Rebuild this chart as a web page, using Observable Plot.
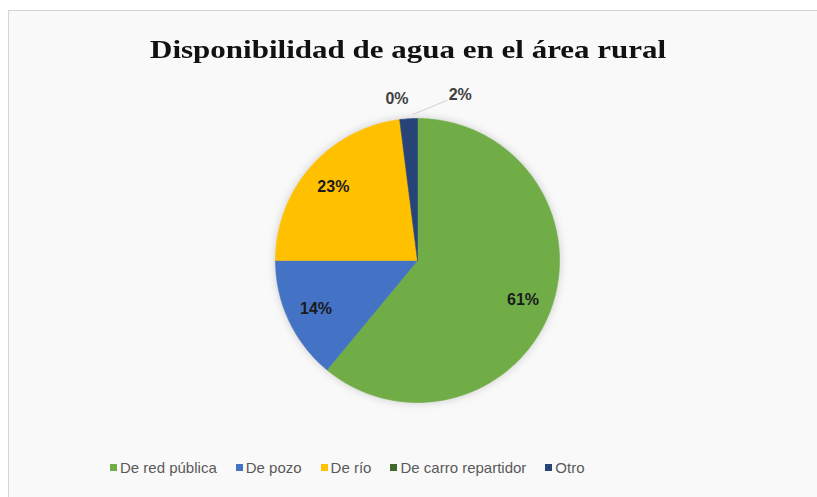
<!DOCTYPE html>
<html>
<head>
<meta charset="utf-8">
<script src="https://cdn.jsdelivr.net/npm/d3@7"></script>
<script src="https://cdn.jsdelivr.net/npm/@observablehq/plot@0.6"></script>
<style>
  html, body { margin: 0; padding: 0; background: #ffffff; }
  #wrap { position: relative; width: 817px; height: 497px; overflow: hidden; }
  #frame { position: absolute; left: 8px; top: 10px; width: 820px; height: 500px;
           background: #f9f9f9; border-left: 1px solid #d4d4d4; border-top: 1px solid #d4d4d4; }
  #title { position: absolute; left: 0; width: 817px; top: 36px; text-align: center;
           font-family: "Liberation Serif", serif; font-weight: bold; font-size: 25px; color: #111;
           transform: scaleX(1.24); transform-origin: 410px 0; }
  #chart { position: absolute; left: 0; top: 0; }
  #legend { position: absolute; left: 110px; top: 459px; display: flex;
            gap: 19px; font-family: "Liberation Sans", sans-serif; font-size: 15px; color: #595959; }
  #legend .item { display: flex; align-items: center; gap: 3px; }
  #legend .sw { width: 7px; height: 7px; display: inline-block; }
</style>
</head>
<body>
<div id="wrap">
  <div id="frame"></div>
  <div id="chart"></div>
  <div id="title"></div>
  <div id="legend"></div>
</div>
<script>
const title = "Disponibilidad de agua en el área rural";
const categories = ["De red pública", "De pozo", "De río", "De carro repartidor", "Otro"];
const values = [61, 14, 23, 0, 2];
const colors = ["#70ad47", "#4472c4", "#ffc000", "#43682b", "#264478"];
const outsideLabels = ["De carro repartidor", "Otro"];

document.getElementById("title").textContent = title;

const data = categories.map((name, i) => ({name, value: values[i]}));
const arcs = d3.pie().sort(null).value(d => d.value)(data);

// polygon outline for each slice (center + arc samples), angle clockwise from 12 o'clock
const poly = [];
arcs.forEach(a => {
  if (a.endAngle - a.startAngle <= 0) return;
  const n = Math.max(2, Math.ceil((a.endAngle - a.startAngle) / (Math.PI / 180)));
  poly.push({name: a.data.name, x: 0, y: 0});
  for (let k = 0; k <= n; k++) {
    const t = a.startAngle + (a.endAngle - a.startAngle) * k / n;
    poly.push({name: a.data.name, x: Math.sin(t), y: Math.cos(t)});
  }
  poly.push({name: a.data.name, x: 0, y: 0});
});

const total = d3.sum(values);
const labels = arcs.map(a => {
  const mid = (a.startAngle + a.endAngle) / 2;
  const outside = outsideLabels.includes(a.data.name);
  const r = outside ? 1.15 : 0.79;
  return {name: a.data.name, text: Math.round(a.data.value / total * 100) + "%",
          x: r * Math.sin(mid), y: r * Math.cos(mid), mid, outside};
});
const inside = labels.filter(d => !d.outside);
const outA = labels.filter(d => d.outside && d.name !== "Otro");
const outB = labels.filter(d => d.name === "Otro");
const leader = outB.flatMap(d => [
  {x: 1.0 * Math.sin(d.mid) + 0.03, y: 1.0 * Math.cos(d.mid) + 0.03},
  {x: d.x + 0.28, y: d.y - 0.02}
]);

const font = "Liberation Sans, sans-serif";
const chart = Plot.plot({
  width: 817, height: 497,
  marginLeft: 275, marginRight: 817 - 559, marginTop: 118, marginBottom: 497 - 402,
  x: {domain: [-1, 1], axis: null},
  y: {domain: [-1, 1], axis: null},
  color: {domain: categories, range: colors},
  style: {background: "transparent", overflow: "visible"},
  marks: [
    Plot.line(poly, {x: "x", y: "y", z: "name", fill: "name", stroke: "name", strokeWidth: 0.6}),
    Plot.line(leader, {x: "x", y: "y", stroke: "#d0d0d0", strokeWidth: 1}),
    Plot.text(inside, {x: "x", y: "y", text: "text", fill: "#1a1a1a", fontWeight: "bold",
      fontSize: 16, fontFamily: font, dy: 1}),
    Plot.text(outA, {x: "x", y: "y", text: "text", fill: "#404040", fontWeight: "bold",
      fontSize: 16, fontFamily: font}),
    Plot.text(outB, {x: "x", y: "y", text: "text", fill: "#404040", fontWeight: "bold",
      fontSize: 16, fontFamily: font, dx: 53, dy: -3})
  ]
});
const pieG = chart.querySelector('g[aria-label="line"]');
if (pieG) pieG.style.filter = "drop-shadow(0 0 4px rgba(0,0,0,0.18))";
document.getElementById("chart").appendChild(chart);

const leg = document.getElementById("legend");
categories.forEach((c, i) => {
  const it = document.createElement("span");
  it.className = "item";
  const sw = document.createElement("span");
  sw.className = "sw";
  sw.style.background = colors[i];
  const tx = document.createElement("span");
  tx.textContent = c;
  it.appendChild(sw); it.appendChild(tx);
  leg.appendChild(it);
});
</script>
</body>
</html>
